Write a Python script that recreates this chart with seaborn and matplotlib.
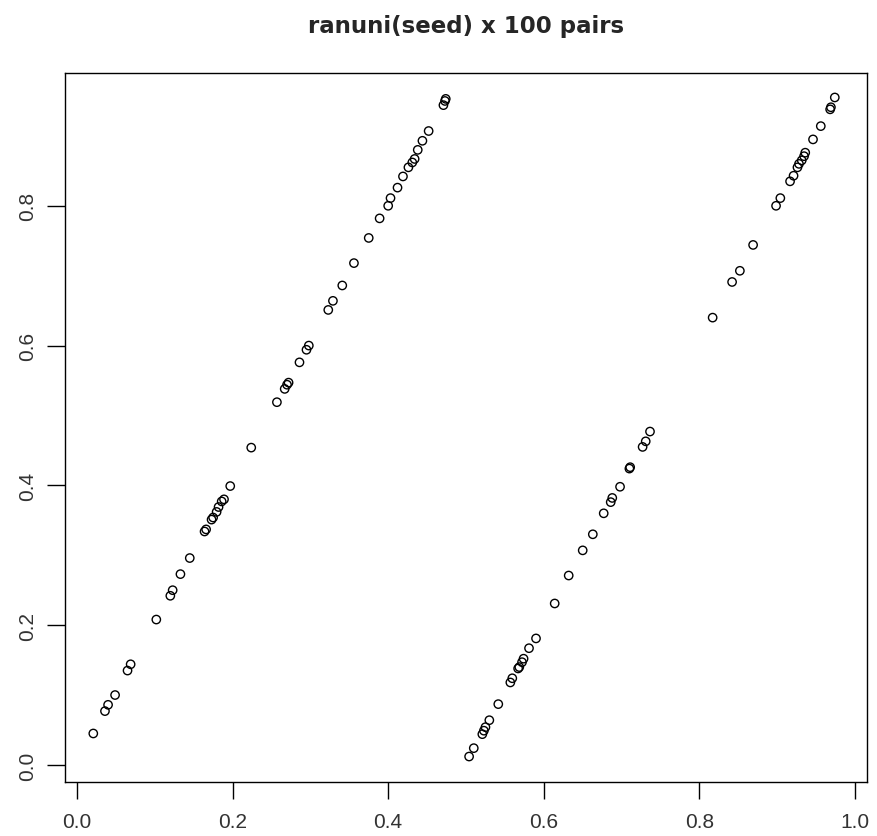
import matplotlib
matplotlib.use("Agg")
import matplotlib.pyplot as plt
import seaborn as sns
import pandas as pd

# values
x_vals = [0.021, 0.036, 0.040, 0.049, 0.065, 0.069, 0.102, 0.120, 0.123, 0.133,
          0.145, 0.164, 0.166, 0.173, 0.175, 0.1795, 0.182, 0.186, 0.189, 0.197,
          0.224, 0.257, 0.267, 0.270, 0.272, 0.286, 0.295, 0.298, 0.323, 0.329,
          0.341, 0.356, 0.375, 0.389, 0.400, 0.403, 0.412, 0.419, 0.426, 0.431,
          0.434, 0.438, 0.444, 0.452, 0.471, 0.473, 0.474,
          0.504, 0.510, 0.521, 0.523, 0.525, 0.530, 0.5415, 0.557, 0.5595, 0.567,
          0.5685, 0.572, 0.574, 0.581, 0.590, 0.614, 0.632, 0.650, 0.663, 0.677,
          0.686, 0.688, 0.698, 0.710, 0.711, 0.727, 0.731, 0.7365, 0.817, 0.842,
          0.852, 0.869, 0.8985, 0.904, 0.9165, 0.921, 0.926, 0.928, 0.9315, 0.9345,
          0.936, 0.946, 0.956, 0.968, 0.969, 0.974]
y_vals = [0.045, 0.077, 0.086, 0.100, 0.135, 0.144, 0.208, 0.242, 0.250, 0.273,
          0.296, 0.334, 0.337, 0.351, 0.354, 0.362, 0.369, 0.377, 0.380, 0.399,
          0.454, 0.519, 0.538, 0.544, 0.547, 0.576, 0.594, 0.600, 0.651, 0.664,
          0.686, 0.718, 0.754, 0.782, 0.800, 0.811, 0.826, 0.842, 0.855, 0.862,
          0.867, 0.880, 0.893, 0.907, 0.944, 0.950, 0.953,
          0.012, 0.024, 0.044, 0.049, 0.054, 0.064, 0.087, 0.118, 0.124, 0.138,
          0.140, 0.147, 0.152, 0.167, 0.181, 0.231, 0.271, 0.307, 0.330, 0.360,
          0.376, 0.382, 0.398, 0.424, 0.426, 0.455, 0.463, 0.477, 0.640, 0.691,
          0.707, 0.744, 0.800, 0.811, 0.835, 0.843, 0.855, 0.860, 0.865, 0.871,
          0.876, 0.895, 0.914, 0.938, 0.941, 0.955]

x_ticks = [0.0, 0.2, 0.4, 0.6, 0.8, 1.0]
y_ticks = [0.0, 0.2, 0.4, 0.6, 0.8]
title = "ranuni(seed) x 100 pairs"

df = pd.DataFrame({"x": x_vals, "y": y_vals})

sns.set_theme(style="white")
plt.rcParams["font.family"] = ["Liberation Sans", "DejaVu Sans"]

W, H = 877, 837
fig = plt.figure(figsize=(W / 100, H / 100), dpi=100)
left, right, top, bottom = 64.5, 866.7, 74.0, 782.7
ax = fig.add_axes([left / W, 1 - bottom / H, (right - left) / W, (bottom - top) / H])

sns.scatterplot(data=df, x="x", y="y", ax=ax, marker="o", s=36,
                facecolor="none", edgecolor="black", linewidth=1.0, legend=False)

ax.set_xlim(-0.016, 1.015)
ax.set_ylim(-0.024, 0.990)
ax.set_xticks(x_ticks)
ax.set_xticklabels([f"{v:.1f}" for v in x_ticks])
ax.set_yticks(y_ticks)
ax.set_yticklabels([f"{v:.1f}" for v in y_ticks], rotation=90, va="center")
ax.set_xlabel("")
ax.set_ylabel("")
for s in ax.spines.values():
    s.set_color("black")
    s.set_linewidth(1.0)
    s.set_visible(True)
ax.tick_params(axis="x", which="major", bottom=True, direction="out", length=12,
               width=1.0, color="black", labelsize=15, pad=10, labelcolor="#333333")
ax.tick_params(axis="y", which="major", left=True, direction="out", length=13,
               width=1.0, color="black", labelsize=15, pad=7, labelcolor="#333333")
ax.grid(False)

fig.text(465.6 / W, 1 - 33 / H, title, ha="center", va="baseline",
         fontsize=16.5, fontweight="bold", family=["DejaVu Sans"])

fig.savefig("out.png", dpi=100, facecolor="white")
